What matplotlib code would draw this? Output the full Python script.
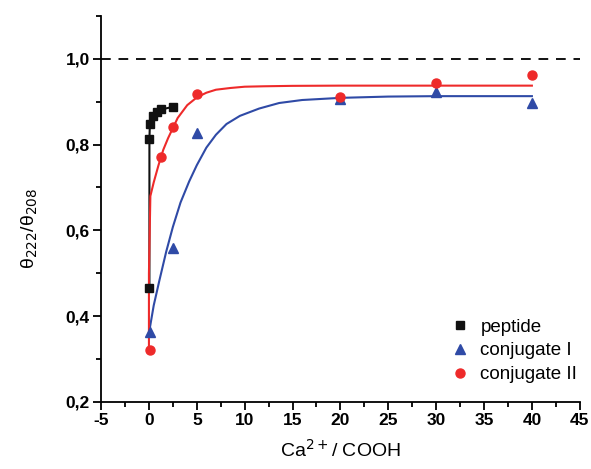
import matplotlib

matplotlib.use("Agg")
import matplotlib.pyplot as plt
from matplotlib.ticker import MultipleLocator, FuncFormatter

plt.rcParams["font.family"] = ["Liberation Sans", "DejaVu Sans"]
plt.rcParams["axes.unicode_minus"] = False

BLACK = "#111111"
BLUE = "#2f4aa6"
RED = "#ee2a2a"

# measured points
pep_x = [0.05, 0.05, 0.1, 0.4, 0.8, 1.3, 2.5]
pep_y = [0.465, 0.812, 0.849, 0.866, 0.875, 0.882, 0.888]

conj1_x = [0.07, 2.5, 5, 20, 30, 40]
conj1_y = [0.364, 0.558, 0.826, 0.907, 0.923, 0.898]

conj2_x = [0.07, 1.3, 2.5, 5, 20, 30, 40]
conj2_y = [0.321, 0.770, 0.841, 0.917, 0.912, 0.943, 0.963]

# fitted curves, sampled off the figure
fit1_x = [0.0, 0.5, 1.1, 1.8, 2.5, 3.3, 4.2, 5.0, 6.0, 7.0, 8.1, 9.5, 11.5, 13.6, 16, 20, 25, 30, 40]
fit1_y = [0.360, 0.425, 0.484, 0.550, 0.608, 0.665, 0.714, 0.752, 0.793, 0.823, 0.848, 0.867,
          0.884, 0.897, 0.904, 0.909, 0.912, 0.913, 0.913]

fit2_x = [0.0, 0.0, 0.15, 0.5, 1.0, 1.5, 2.0, 3.0, 4.0, 5.0, 6.0, 7.0, 8.5, 10, 12, 15, 20, 40]
fit2_y = [0.321, 0.50, 0.680, 0.712, 0.752, 0.788, 0.815, 0.862, 0.892, 0.910, 0.921, 0.928,
          0.932, 0.935, 0.936, 0.937, 0.9375, 0.9375]

fig = plt.figure(figsize=(5.91, 4.69), dpi=100)
ax = fig.add_axes([0.171, 0.143, 0.81, 0.823])

ax.axhline(1.0, color=BLACK, lw=1.4, ls=(0, (5, 4)))

ax.plot(pep_x, pep_y, color=BLACK, lw=1.5)
ax.plot(fit1_x, fit1_y, color=BLUE, lw=1.5)
ax.plot(fit2_x, fit2_y, color=RED, lw=1.5)

ax.plot(pep_x, pep_y, ls="none", marker="s", ms=6, color=BLACK, label="peptide")
ax.plot(conj1_x, conj1_y, ls="none", marker="^", ms=7.5, color=BLUE, label="conjugate I")
ax.plot(conj2_x, conj2_y, ls="none", marker="o", ms=6.5, color=RED, label="conjugate II")

ax.set_xlim(-5, 45)
ax.set_ylim(0.2, 1.1)
ax.xaxis.set_major_locator(MultipleLocator(5))
ax.xaxis.set_minor_locator(MultipleLocator(2.5))
ax.yaxis.set_major_locator(MultipleLocator(0.2))
ax.yaxis.set_minor_locator(MultipleLocator(0.1))
ax.yaxis.set_major_formatter(FuncFormatter(lambda v, p: f"{v:.1f}".replace(".", ",")))

for side in ("top", "right"):
    ax.spines[side].set_visible(False)
for side in ("left", "bottom"):
    ax.spines[side].set_linewidth(1.3)
ax.tick_params(which="major", direction="out", length=6, width=1.3, labelsize=12.5, pad=2)
ax.tick_params(which="minor", direction="out", length=3.5, width=1.3)
for lab in ax.get_xticklabels() + ax.get_yticklabels():
    lab.set_fontweight("bold")

ax.set_xlabel("Ca$^{2+}$/ COOH", fontsize=14, labelpad=8)
ax.set_ylabel("θ$_{222}$/θ$_{208}$", fontsize=14)
ax.yaxis.set_label_coords(-0.127, 0.45)

ax.legend(loc="lower right", bbox_to_anchor=(1.03, 0.005), frameon=False, fontsize=13.5,
          handletextpad=0.5, labelspacing=0.35, handlelength=1.2)

fig.savefig("out.png", dpi=100, facecolor="white")
